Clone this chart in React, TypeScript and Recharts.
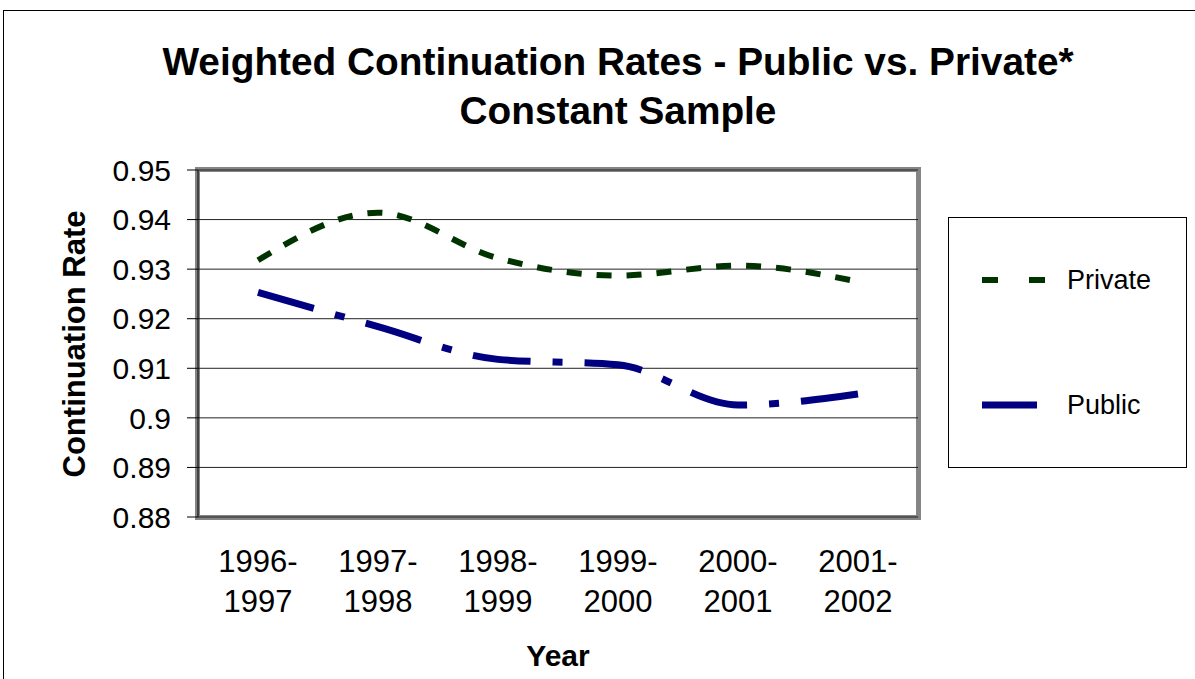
import React from 'react';
import { LineChart, Line, XAxis, YAxis, CartesianGrid } from 'recharts';

const categories = ['1996-1997', '1997-1998', '1998-1999', '1999-2000', '2000-2001', '2001-2002'];
const privateRates = [0.9318, 0.9414, 0.9322, 0.9287, 0.9307, 0.9275];
const publicRates = [0.9253, 0.9184, 0.9118, 0.9107, 0.9026, 0.9048];
const yTicks = [0.88, 0.89, 0.9, 0.91, 0.92, 0.93, 0.94, 0.95];
const boundaryTicks = [0, 1, 2, 3, 4, 5, 6];
const titleLines = ['Weighted Continuation Rates - Public vs. Private*', 'Constant Sample'];

const data = categories.map((c, i) => ({
  year: c,
  pos: i + 0.5,
  Private: privateRates[i],
  Public: publicRates[i],
}));

const FONT = 'Arial, "Liberation Sans", sans-serif';

const series = [
  { key: 'Private', color: '#003300', width: 6, dash: '15 15' },
  { key: 'Public', color: '#000080', width: 7, dash: '58 22 10 22' },
];

const XTick = (props: any) => {
  const { x, y, payload } = props;
  const parts = String(payload.value).split('-');
  return (
    <text x={x} y={y} textAnchor="middle" fontSize={31} fontFamily={FONT} fill="#000">
      <tspan x={x} dy={47}>{parts[0] + '-'}</tspan>
      <tspan x={x} dy={40}>{parts[1]}</tspan>
    </text>
  );
};

const LegendBox = () => (
  <div
    style={{
      position: 'absolute',
      left: 948,
      top: 217,
      width: 239,
      height: 251,
      border: '1px solid #000',
      background: '#fff',
      boxSizing: 'border-box',
      fontFamily: FONT,
    }}
  >
    {series.map((s, i) => (
      <div
        key={s.key}
        style={{
          position: 'absolute',
          left: 32,
          top: i === 0 ? 47 : 172,
          display: 'flex',
          alignItems: 'center',
          height: 30,
        }}
      >
        <svg width={64} height={12} style={{ flex: 'none' }}>
          <line
            x1={1}
            x2={i === 0 ? 64 : 56}
            y1={6}
            y2={6}
            stroke={s.color}
            strokeWidth={s.width}
            strokeDasharray={i === 0 ? '16 31' : undefined}
          />
        </svg>
        <span style={{ fontSize: 27, marginLeft: 22, color: '#000', whiteSpace: 'nowrap' }}>{s.key}</span>
      </div>
    ))}
  </div>
);

export default function App() {
  return (
    <div
      style={{
        position: 'absolute',
        left: 0,
        top: 0,
        width: 1195,
        height: 679,
        overflow: 'hidden',
        background: '#fff',
      }}
    >
      <div
        style={{
          position: 'absolute',
          left: 3,
          top: 10,
          width: 1300,
          height: 800,
          border: '1.5px solid #000',
        }}
      />
      <svg
        width={1195}
        height={140}
        style={{ position: 'absolute', left: 0, top: 0 }}
      >
        {titleLines.map((t, i) => (
          <text
            key={t}
            x={618}
            y={75 + i * 49}
            textAnchor="middle"
            fontFamily={FONT}
            fontWeight="bold"
            fontSize={38.8}
            fill="#000"
          >
            {t}
          </text>
        ))}
      </svg>
      <div
        style={{
          position: 'absolute',
          left: 195,
          top: 167,
          width: 726,
          height: 353,
          border: '5px solid #858585',
          boxSizing: 'border-box',
        }}
      />
      <div style={{ position: 'absolute', left: 0, top: 0 }}>
        <LineChart
          width={1195}
          height={679}
          data={data}
          margin={{ top: 170, right: 277, left: 0, bottom: 0 }}
        >
          <CartesianGrid vertical={false} stroke="#222" strokeWidth={1} xAxisId="cat" yAxisId="y" />
          <XAxis
            xAxisId="edge"
            dataKey="pos"
            type="number"
            domain={[0, 6]}
            ticks={boundaryTicks}
            tick={false}
            tickSize={10}
            height={0}
            stroke="#000"
            allowDataOverflow
          />
          <XAxis
            xAxisId="cat"
            dataKey="year"
            scale="band"
            tickLine={false}
            axisLine={false}
            height={162}
            interval={0}
            tick={<XTick />}
            label={{
              value: 'Year',
              position: 'insideBottom',
              offset: 13,
              fontSize: 30,
              fontWeight: 'bold',
              fill: '#000',
              fontFamily: FONT,
            }}
          />
          <YAxis
            yAxisId="y"
            width={198}
            domain={[0.88, 0.95]}
            ticks={yTicks}
            interval={0}
            tickSize={11}
            tickMargin={16}
            stroke="#000"
            tickFormatter={(v: number) => String(Number(v.toFixed(2)))}
            tick={{ fontSize: 30, fill: '#000', fontFamily: FONT }}
            label={{
              content: () => (
                <text
                  transform="translate(74,344) rotate(-90)"
                  textAnchor="middle"
                  dominantBaseline="central"
                  fontSize={31}
                  fontWeight="bold"
                  fontFamily={FONT}
                  fill="#000"
                >
                  Continuation Rate
                </text>
              ),
            }}
          />
          {series.map((s) => (
            <Line
              key={s.key}
              xAxisId="cat"
              yAxisId="y"
              type="monotone"
              dataKey={s.key}
              stroke={s.color}
              strokeWidth={s.width}
              strokeDasharray={s.dash}
              strokeLinecap="butt"
              dot={false}
              activeDot={false}
              isAnimationActive={false}
            />
          ))}
        </LineChart>
      </div>
      <LegendBox />
    </div>
  );
}
